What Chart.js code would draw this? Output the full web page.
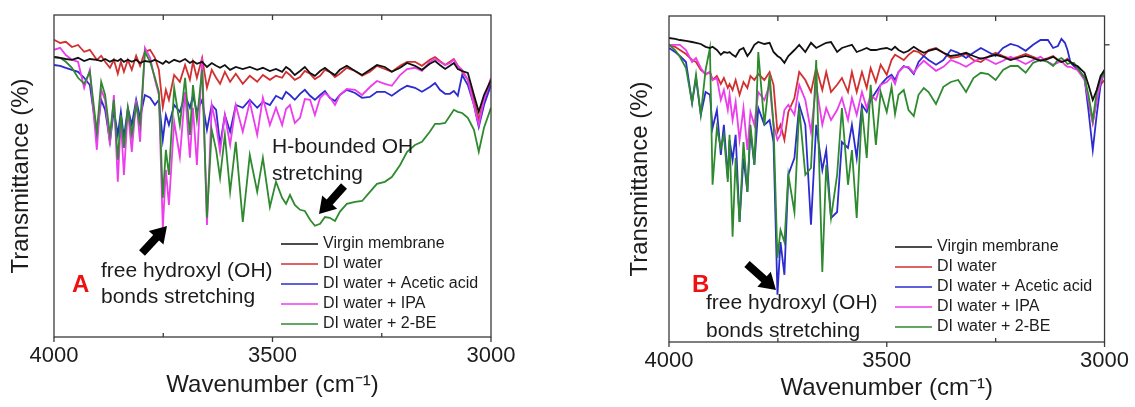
<!DOCTYPE html>
<html>
<head>
<meta charset="utf-8">
<script src="https://cdn.jsdelivr.net/npm/chart.js@4.4.1/dist/chart.umd.min.js"></script>
<style>
  html, body { margin: 0; padding: 0; background: #fff; }
  #wrap { position: relative; width: 1135px; height: 407px; overflow: hidden; }
  canvas { position: absolute; top: 0; }
  #chartA { left: 0; }
  #chartB { left: 575px; }
</style>
</head>
<body>
<div id="wrap">
  <canvas id="chartA" width="560" height="407"></canvas>
  <canvas id="chartB" width="560" height="407"></canvas>
</div>
<script>
const seriesNames = ["Virgin membrane", "DI water", "DI water + Acetic acid", "DI water + IPA", "DI water + 2-BE"];
const seriesColors = ["#111111", "#d23030", "#2b2bd0", "#ec3cec", "#2f8a2f"];
const xTicks = [4000, 3500, 3000];
const minorTicks = [3750, 3250];
const rightTickB = [74.3];

// panel A
const waveA = [4000,3986,3973,3959,3945,3931,3918,3902,3892,3883,3872,3863,3854,3847,3840,3831,3822,3812,3803,3792,3780,3769,3760,3751,3744,3737,3725,3712,3700,3689,3682,3673,3661,3650,3639,3629,3620,3609,3597,3584,3568,3552,3535,3522,3506,3492,
  3478,3469,3460,3449,3437,3426,3414,3403,3391,3380,3369,3357,3346,3330,3311,3295,3277,3261,3243,3227,3208,3192,3174,3158,3140,3128,3117,3105,3094,3085,3076,3066,3053,3039,3028,3016,3000];
const virginA = [70,69.8,69.5,69.3,69.8,69,69.5,69.3,69,69.5,68.8,69.3,69,69.5,68.8,69.3,68.8,69.3,68.5,69,68.8,69.3,68.8,68.3,69,68.5,69.3,68.8,69.5,68.5,69,68.3,68.8,67.5,68.5,67.8,67.3,68,66.8,67.5,67,67.5,66.8,67.3,66.5,67,
  66.3,67.5,66.8,65.5,66.5,67.5,66,65.3,66.5,67.3,66.3,65.5,66.8,67.8,66.5,65.5,66.8,68,67.5,66.3,67.3,68.5,67.8,66.8,68.3,69,68,67,67.8,68.5,67,66.5,66,60.5,56.3,60.5,64.3];
const waterA = [74.3,73.5,73.8,72.5,73,71.3,71.8,69.3,70.3,68.8,67.3,69.3,65.8,68.8,66.3,69.3,66.8,70.3,67.8,71.3,71.8,69.8,66.8,57.5,61.8,59.3,65.5,63.8,68,64.3,68.8,64.8,69.8,62.3,66.8,64.8,63.3,66.3,63.8,65.8,63.3,65.3,63.8,65.5,64.3,65.3,
  64.8,66.3,65.5,64.3,65,66.5,65.8,64.5,65.3,66.8,66.3,65,65.8,67.3,66.5,65.3,66.3,67.8,67,66.3,67.8,68.8,68.8,67.8,69.3,70,69,68,68.8,69.5,67.8,66.3,64.3,59.3,54.3,59.3,63.8];
const aceticA = [68,67.8,67.3,66.8,66.3,64.8,63,50.5,59.3,56.8,48.8,56.8,50.5,56.3,49.8,57.3,53,59.3,54.8,60.5,59.8,58,59.3,49.3,55.5,53,58,56.3,60.5,57.3,60.3,56.3,59.3,51.8,58,56.8,48,55.5,51.3,58,57.3,59.3,57.3,58.8,58,60.3,
  59.5,61.3,60.5,59.3,60.8,61.8,60.3,59.3,60.5,61.5,59.8,59,60.5,61.8,61,59.8,60,61.3,61.3,60.3,61.8,62.8,62.3,61.3,62.5,63.5,61.8,60.8,60.8,61.5,60.3,65.5,63,58,52.5,58,63];
const ipaA = [71.8,72.3,70.5,69.3,68.8,62.3,66.8,46.8,61.8,59.3,48,60.5,38.8,54.3,40.5,56.8,46.3,59.3,48.8,72.3,69.8,64.3,60.5,27.3,41.8,33,53.8,45,61.3,44.8,57.3,43,69.8,28,58,53,46.3,55.5,48,58,51.3,58.8,50.5,59.8,53,57.3,
  53,57,58,53.5,54.8,59.5,59.3,55.5,59.8,61,60,58,60.5,62,61.8,60.5,62.5,64,63.3,62.8,65.5,67,67.3,66.5,68.8,69.5,68.8,68,68.5,69.3,67.8,66.8,64.3,58,53,59.3,64.8];
const beA = [70,69.8,68.8,67.3,64.8,63.3,66.3,51.3,63.8,60.5,50.5,59.3,44.3,55.5,47.3,57.3,50.5,58,53,71.3,68.8,64.8,61.3,34.8,46.8,40.5,62.3,53,64.8,50.5,63,54.3,66.8,29.8,51.8,46.8,39.8,50.5,36.3,48.8,28.8,45.5,36.3,44.8,32.5,38.8,
  34.8,33.3,35.5,33,31.8,31.5,29.3,27.8,28.3,30,29.8,29,31.3,33.3,33.8,34,36.3,38.3,38.8,40,43,46.3,48,48.8,51.3,53.3,53.3,53.5,55.3,56.8,56.3,56,54.8,51.8,46.3,52.3,57.3];

// panel B
const waveB = [4000,3986,3975,3961,3947,3938,3927,3916,3906,3900,3890,3881,3874,3865,3861,3854,3847,3838,3829,3820,3813,3804,3795,3781,3769,3760,3751,3744,3735,3726,3712,3701,3687,3674,3662,3648,3639,3628,3614,3603,3589,3580,3569,3557,3546,3537,3525,3514,3500,
  3489,3481,3473,3461,3450,3438,3427,3415,3404,3387,3370,3353,3336,3318,3301,3284,3267,3250,3233,3216,3199,3181,3164,3147,3130,3118,3107,3099,3091,3085,3078,3070,3062,3046,3037,3027,3018,3009,3000];
const virginB = [76,75.8,75.5,75.3,75,74.8,74.5,73.8,73.5,73.8,73,71.8,72.5,72.3,72.5,71.8,71.3,73,73.5,71.5,72.5,74.3,75,74.5,74.8,72.5,71.5,71,69.8,71.5,73,74.3,72.5,74.8,73.5,74.3,74.8,75,72.5,73.5,74,74.3,72.5,73,73.5,73,73,73.3,73.5,
  73,73.8,73,72.3,72.8,73.8,73,72.3,72.8,73.3,72.3,71.5,71.8,72.3,71.5,70.8,71.3,71.8,71.3,70.5,71,71.5,71,70.3,70.8,71.3,70.5,70,70.3,70.5,70,69.3,69,67.3,64.3,60.5,63,66.5,68];
const waterB = [74.3,73.8,73,72,70.5,70,68,67,67.5,65.5,66.5,64.5,66,63.5,64.5,63,65.5,61.8,65,63.5,66.5,65.5,67,65.5,67.5,64.3,52.5,54.3,50.5,57.5,61,67.5,65.5,62.5,68.5,63,67.5,62.5,64.3,66,62.5,67.5,62.5,67.5,63.5,68.5,65,69.3,66.8,
  70.5,71.8,71.3,70.5,71.8,72.8,72.5,71.5,73,73.5,72.3,71,71.3,72,70.5,70,71.3,72.3,71.5,70.8,71.3,72,71.3,70.5,71,71.5,70.5,70,70.3,70.8,70,69,68,66.3,60.5,54.8,60.5,64.3,65.5];
const aceticB = [73.5,72.5,71.5,70,59.8,66,56.8,62.5,61.8,53.5,58,46.8,54.3,41,50.5,45.5,51.8,30,46,37.5,53,44.3,58.5,54.3,55.5,50,11.8,25,16.8,41.8,46,59.3,54.3,29.3,54.3,43,48,31,32.5,50,48.5,54.3,46,59.3,57.5,60.5,62.5,64.3,66,
  66.8,65.5,67.5,69,68.5,67,70,71.5,70.5,69.3,70.5,73,72.3,71,72.3,73.5,72.5,71.5,73.5,74.5,74,72.8,74.3,75.5,75.5,73.5,74,75.8,74.8,73,69.8,69,68.5,66,58,48,56.8,64.3,68];
const ipaB = [74.3,74.3,74.3,73,70,71,68.5,66.8,67.5,65.5,66,60.5,63,58,61.8,55.5,60,50.5,58.5,48,57.5,54.3,62.5,60.5,64.3,54.3,50.5,51.8,58,59.3,56.8,64.3,60.5,52.5,64.3,54.3,58.5,55.5,58,61,55.5,61,56.8,62.5,58.5,61.8,60.5,64.3,65,
  66.3,64.5,67.5,68.8,68.8,67.3,69,70.3,69.3,67.8,68.8,70.5,69.8,68.8,70,71,70.5,69.5,70.3,71.3,70.5,69.5,70.5,71.3,70,69.3,69.8,70.3,69.3,68.8,68.8,68.3,68,65.5,60.5,54.8,60.5,65,67.3];
const beB = [74.3,73,71.3,68.5,59.8,66.8,56.8,68,73.5,39.3,53.5,48.5,51.8,40,51.8,26.3,46,30,50,37.5,54.3,44.3,72.5,54.3,66.8,54.3,21,28,25,41.8,32.5,58.5,41.8,43.5,70.5,17.5,44.3,31,41.8,58.5,39.3,48,31,58.5,46,64.3,49.3,62.5,57.5,
  63.8,57,61.8,63,58,56.5,61.8,63.5,62.5,59.5,63.8,65,65.5,62.5,66,67.3,67,65.5,68,69,69,67.3,69.8,70.5,70,69,70.5,71,70.3,69.5,69.8,69.8,68.5,66,61.8,55.5,62.5,66,67.3];

const FONT = "'Liberation Sans', Arial, sans-serif";
const TEXT = "#1c1c1c";
const drawOrder = [-1, 3, 2, 1, 0];

function toPoints(wave, vals) {
  return wave.map((w, i) => ({ x: w, y: vals[i] }));
}

function line(ctx, x1, y1, x2, y2) {
  ctx.beginPath();
  ctx.moveTo(x1, y1);
  ctx.lineTo(x2, y2);
  ctx.stroke();
}

function arrow(ctx, tx, ty, hx, hy) {
  const ang = Math.atan2(hy - ty, hx - tx);
  const len = Math.hypot(hx - tx, hy - ty);
  const shaft = 4, head = 10, headLen = 16;
  ctx.save();
  ctx.translate(tx, ty);
  ctx.rotate(ang);
  ctx.beginPath();
  ctx.moveTo(0, -shaft);
  ctx.lineTo(len - headLen, -shaft);
  ctx.lineTo(len - headLen, -head);
  ctx.lineTo(len, 0);
  ctx.lineTo(len - headLen, head);
  ctx.lineTo(len - headLen, shaft);
  ctx.lineTo(0, shaft);
  ctx.closePath();
  ctx.fillStyle = "#000";
  ctx.fill();
  ctx.restore();
}

const decorPlugin = {
  id: "decor",
  afterDatasetsDraw(chart, args, opts) {
    const { ctx, chartArea: a, scales: { x, y } } = chart;
    ctx.save();
    // frame and ticks
    ctx.strokeStyle = "#3a3a3a";
    ctx.lineWidth = 1.3;
    ctx.strokeRect(a.left, a.top, a.right - a.left, a.bottom - a.top);
    xTicks.forEach(v => { const px = x.getPixelForValue(v); line(ctx, px, a.bottom, px, a.bottom + 5); });
    minorTicks.forEach(v => { const px = x.getPixelForValue(v); line(ctx, px, a.bottom, px, a.bottom - 4); });
    [3750, 3500, 3250].forEach(v => { const px = x.getPixelForValue(v); line(ctx, px, a.top, px, a.top + 5); });
    (opts.rightTicks || []).forEach(v => { const py = y.getPixelForValue(v); line(ctx, a.right, py, a.right + 5, py); });

    // legend
    const lg = opts.legend;
    ctx.font = "16px " + FONT;
    ctx.textBaseline = "middle";
    ctx.textAlign = "left";
    chart.data.datasets.forEach((ds, i) => {
      const yy = lg.y + i * lg.gap;
      ctx.strokeStyle = ds.borderColor;
      ctx.lineWidth = 1.6;
      line(ctx, lg.x, yy, lg.x + 37, yy);
      ctx.fillStyle = TEXT;
      ctx.fillText(ds.label, lg.x + 42, yy);
    });

    // annotations
    ctx.textBaseline = "alphabetic";
    opts.notes.forEach(n => {
      ctx.font = (n.bold ? "bold " : "") + n.size + "px " + FONT;
      ctx.fillStyle = n.color || TEXT;
      ctx.fillText(n.text, n.x, n.y);
    });
    opts.arrows.forEach(ar => arrow(ctx, ar[0], ar[1], ar[2], ar[3]));
    ctx.restore();
  }
};

function makeChart(id, wave, series, cfg) {
  return new Chart(document.getElementById(id), {
    type: "line",
    data: {
      datasets: series.map((vals, i) => ({
        label: seriesNames[i],
        data: toPoints(wave, vals),
        borderColor: seriesColors[i],
        borderWidth: 1.8,
        pointRadius: 0,
        tension: 0,
        order: drawOrder[i]
      }))
    },
    options: {
      responsive: false,
      animation: false,
      devicePixelRatio: 1,
      layout: { padding: { left: 0, top: cfg.top, right: cfg.right, bottom: 0 } },
      plugins: {
        legend: { display: false },
        tooltip: { enabled: false },
        decor: cfg.decor
      },
      scales: {
        x: {
          type: "linear",
          reverse: true,
          min: 3000,
          max: 4000,
          afterFit: s => { s.height = cfg.xHeight; },
          afterBuildTicks: s => { s.ticks = xTicks.map(v => ({ value: v })); },
          grid: { display: false, drawTicks: false },
          border: { display: false },
          ticks: { padding: 6, color: TEXT, font: { family: FONT, size: 22 }, maxRotation: 0, callback: v => String(v) },
          title: {
            display: true,
            text: "Wavenumber (cm\u207B\u00B9)",
            color: TEXT,
            font: { family: FONT, size: 24 },
            padding: { top: 0, bottom: cfg.titleBottom }
          }
        },
        y: {
          min: 0,
          max: cfg.yMax,
          afterFit: s => { s.width = cfg.yWidth; },
          grid: { display: false, drawTicks: false },
          border: { display: false },
          ticks: { display: false },
          title: {
            display: true,
            text: "Transmittance (%)",
            color: TEXT,
            font: { family: FONT, size: 24 },
            padding: { top: cfg.yTitlePad, bottom: 0 }
          }
        }
      }
    },
    plugins: [decorPlugin]
  });
}

makeChart("chartA", waveA, [virginA, waterA, aceticA, ipaA, beA], {
  top: 15, right: 69, xHeight: 70, yWidth: 54, yMax: 80.5, titleBottom: 7, yTitlePad: 7,
  decor: {
    legend: { x: 281, y: 244, gap: 20 },
    notes: [
      { text: "H-bounded OH", x: 272, y: 153, size: 21 },
      { text: "stretching", x: 272, y: 180, size: 21 },
      { text: "free hydroxyl (OH)", x: 101, y: 277, size: 21 },
      { text: "bonds stretching", x: 101, y: 303, size: 21 },
      { text: "A", x: 72, y: 292, size: 24, bold: true, color: "#f01010" }
    ],
    arrows: [[142, 253, 167, 226], [344, 186, 319, 214]]
  }
});

makeChart("chartB", waveB, [virginB, waterB, aceticB, ipaB, beB], {
  top: 16, right: 28, xHeight: 65, yWidth: 94, yMax: 81.5, titleBottom: 4, yTitlePad: 51,
  decor: {
    rightTicks: rightTickB,
    legend: { x: 320, y: 247, gap: 20 },
    notes: [
      { text: "free hydroxyl (OH)", x: 131, y: 309, size: 21 },
      { text: "bonds stretching", x: 131, y: 337, size: 21 },
      { text: "B", x: 117, y: 292, size: 24, bold: true, color: "#f01010" }
    ],
    arrows: [[172, 264, 201, 290]]
  }
});
</script>
</body>
</html>
